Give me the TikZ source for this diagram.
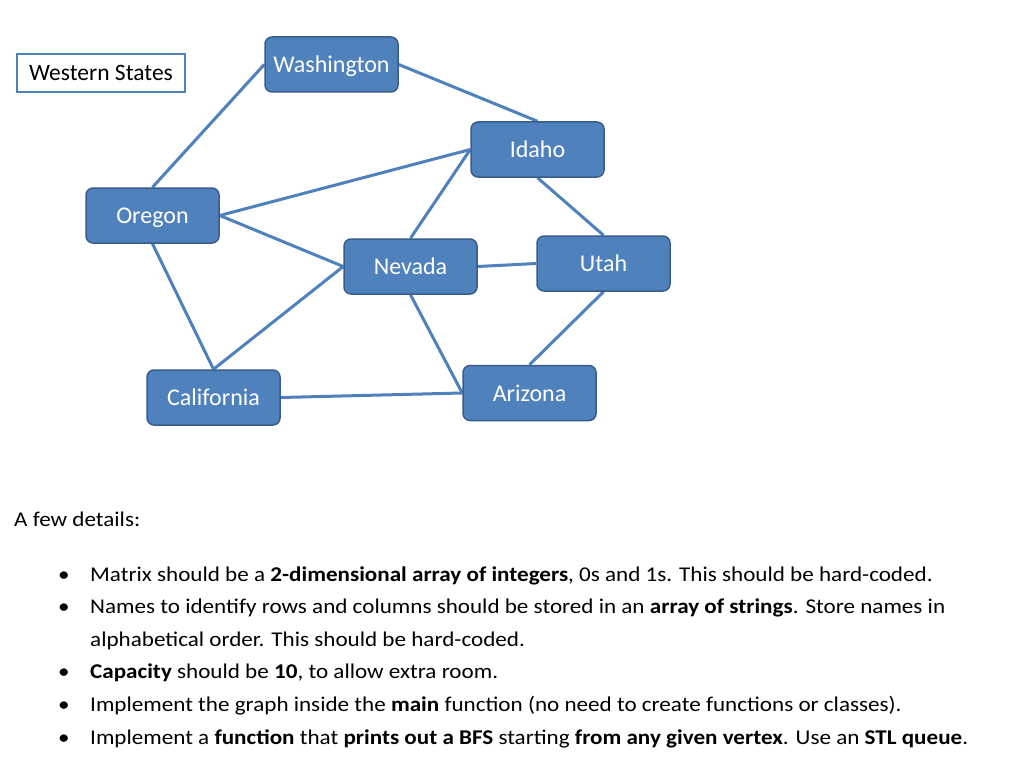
\documentclass[tikz,border=0pt]{standalone}
\usepackage{fontspec}
\setmainfont{Carlito}
\newfontfamily\bodyfont{Carlito}[FakeStretch=1.1]
\usetikzlibrary{backgrounds}
\definecolor{nodefill}{HTML}{4F81BD}
\definecolor{nodeborder}{HTML}{385D8A}
\begin{document}
\begin{tikzpicture}[x=1pt,y=-1pt,
  state/.style={draw=nodeborder, line width=1.5pt, fill=nodefill, rounded corners=7pt,
    minimum width=133pt, minimum height=55pt, text=white, inner sep=0pt,
    text height=16pt, text depth=0pt,
    font=\fontsize{24}{28}\selectfont},
  title/.style={draw=nodefill, line width=1.5pt, fill=white, minimum width=168pt,
    minimum height=38pt, inner sep=0pt, text height=16pt, text depth=0pt,
    font=\fontsize{23.5}{28}\selectfont},
  edge/.style={draw=nodefill, line width=3pt},
  body/.style={anchor=base west, inner sep=0pt, font=\bodyfont\fontsize{21}{33}\selectfont, align=left},
  bul/.style={anchor=base, inner sep=0pt, font=\bodyfont\fontsize{21}{33}\selectfont}]
\useasboundingbox (0,0) rectangle (1024,770);

\node[title] (ws) at (101,73) {Western States};
\node[state] (wa) at (331.5,64.5) {Washington};
\node[state] (id) at (537.5,149.5) {Idaho};
\node[state] (or) at (152.5,215.5) {Oregon};
\node[state] (nv) at (410.5,266.5) {Nevada};
\node[state] (ut) at (603.5,263.5) {Utah};
\node[state] (ca) at (213.5,397.5) {California};
\node[state] (az) at (529.5,393) {Arizona};

\begin{scope}[on background layer]
\fill[white] (0,0) rectangle (1024,770);
\draw[edge] (or.north) -- (wa.west);
\draw[edge] (wa.east) -- (id.north);
\draw[edge] (or.east) -- (id.west);
\draw[edge] (or.east) -- (nv.west);
\draw[edge] (id.west) -- (nv.north);
\draw[edge] (id.south) -- (ut.north);
\draw[edge] (nv.east) -- (ut.west);
\draw[edge] (or.south) -- (ca.north);
\draw[edge] (nv.west) -- (ca.north);
\draw[edge] (nv.south) -- (az.west);
\draw[edge] (ut.south) -- (az.north);
\draw[edge] (ca.east) -- (az.west);
\end{scope}

\node[body] (hd) at (14,526) {A few details:};
\node[bul] (b1) at (64,581) {\textbullet};
\node[body] (t1) at (90,581) {Matrix should be a \textbf{2-dimensional array of integers}, 0s and 1s. This should be hard-coded.};
\node[bul] (b2) at (64,613) {\textbullet};
\node[body] (t2) at (90,646) {Names to identify rows and columns should be stored in an \textbf{array of strings}. Store names in\\alphabetical order. This should be hard-coded.};
\node[bul] (b3) at (64,678) {\textbullet};
\node[body] (t3) at (90,678) {\textbf{Capacity} should be \textbf{10}, to allow extra room.};
\node[bul] (b4) at (64,711) {\textbullet};
\node[body] (t4) at (90,711) {Implement the graph inside the \textbf{main} function (no need to create functions or classes).};
\node[bul] (b5) at (64,744) {\textbullet};
\node[body] (t5) at (90,744) {Implement a \textbf{function} that \textbf{prints out a BFS} starting \textbf{from any given vertex}. Use an \textbf{STL queue}.};
\end{tikzpicture}
\end{document}
